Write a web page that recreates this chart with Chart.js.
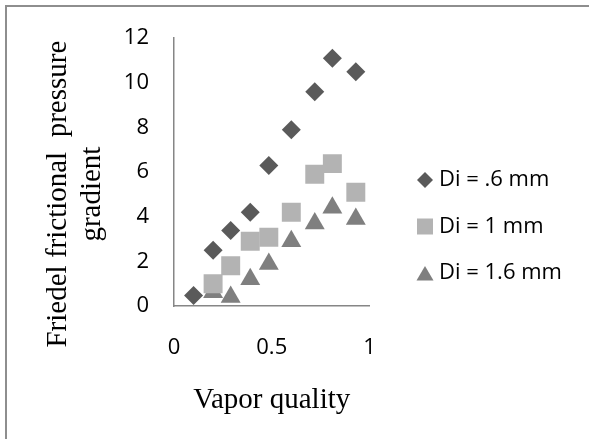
<!DOCTYPE html>
<html>
<head>
<meta charset="utf-8">
<script src="https://cdn.jsdelivr.net/npm/chart.js@4.4.1/dist/chart.umd.min.js"></script>
<style>
  html, body { margin: 0; padding: 0; background: #ffffff; }
  #wrap { position: relative; width: 589px; height: 439px; overflow: hidden; }
  #frame { position: absolute; left: 5px; top: 5px; width: 600px; height: 460px;
           border-left: 2px solid #8e8e8e; border-top: 2px solid #8e8e8e; box-sizing: border-box; }
  canvas { position: absolute; left: 0; top: 0; }
</style>
</head>
<body>
<div id="wrap">
  <div id="frame"></div>
  <canvas id="c" width="589" height="439"></canvas>
</div>
<script>
// ---- data ----
const seriesNames = ["Di = .6 mm", "Di = 1 mm", "Di = 1.6 mm"];
const xSmall = [0.1, 0.2, 0.29, 0.39, 0.485, 0.6, 0.72, 0.81, 0.93];
const ySmall = [0.47, 2.5, 3.38, 4.2, 6.3, 7.9, 9.6, 11.1, 10.5];
const xMid = [0.2, 0.29, 0.39, 0.485, 0.6, 0.72, 0.81, 0.93];
const yMid = [1.0, 1.8, 2.9, 3.08, 4.2, 5.9, 6.38, 5.1];
const xLarge = [0.2, 0.29, 0.39, 0.485, 0.6, 0.72, 0.81, 0.93];
const yLarge = [0.62, 0.4, 1.2, 1.88, 2.9, 3.7, 4.4, 3.9];
const xTickValues = [0, 0.5, 1];
const yTickValues = [0, 2, 4, 6, 8, 10, 12];
const xTitle = "Vapor quality";
const yTitleLines = ["Friedel frictional  pressure", "gradient"];

const colors = ["#5a5a5a", "#b3b3b3", "#7f7f7f"];
const shapes = ["rectRot", "rect", "triangle"];
const radii = [9.5, 13.4, 11.5];

function pts(xs, ys) { return xs.map((x, i) => ({ x: x, y: ys[i] })); }

function legendIcon(shape, color) {
  const c = document.createElement('canvas');
  c.width = 18; c.height = 18;
  const g = c.getContext('2d');
  g.fillStyle = color;
  g.beginPath();
  if (shape === 'rectRot') {
    g.moveTo(9, 1); g.lineTo(17, 9); g.lineTo(9, 17); g.lineTo(1, 9);
  } else if (shape === 'rect') {
    g.rect(1, 1, 16, 16);
  } else {
    g.moveTo(9, 2); g.lineTo(17.5, 16.5); g.lineTo(0.5, 16.5);
  }
  g.closePath();
  g.fill();
  return c;
}
const icons = shapes.map((s, i) => legendIcon(s, colors[i]));

const datasets = [pts(xSmall, ySmall), pts(xMid, yMid), pts(xLarge, yLarge)].map((d, i) => ({
  label: seriesNames[i],
  data: d,
  pointStyle: shapes[i],
  pointRadius: radii[i],
  pointHoverRadius: radii[i],
  backgroundColor: colors[i],
  borderColor: colors[i],
  borderWidth: 0,
  showLine: false
}));

const PLOT_RIGHT = 369.5;
const LEGEND_LEFT = 397.5;

const titlePlugin = {
  id: 'axisTitles',
  afterInit(chart) {
    const lg = chart.legend;
    if (lg) {
      const origFit = lg.fit.bind(lg);
      lg.fit = function () { origFit(); this.width = chart.width - PLOT_RIGHT; };
    }
  },
  afterLayout(chart) {
    const lg = chart.legend;
    if (lg) {
      const dx = LEGEND_LEFT - lg.left;
      lg.left += dx; lg.right += dx;
    }
  },
  afterDraw(chart) {
    const ctx = chart.ctx;
    const a = chart.chartArea;
    ctx.save();
    ctx.fillStyle = '#000000';
    ctx.font = '29px "Liberation Serif"';
    ctx.textAlign = 'center';
    ctx.textBaseline = 'middle';
    ctx.fillText(xTitle, (a.left + a.right) / 2, a.bottom + 94);
    const cy = (a.top + a.bottom) / 2 + 22;
    ctx.translate(0, cy);
    ctx.rotate(-Math.PI / 2);
    ctx.fillText(yTitleLines[0], 0, 58);
    ctx.fillText(yTitleLines[1], 0, 92);
    ctx.restore();
  }
};

new Chart(document.getElementById('c'), {
  type: 'scatter',
  data: { datasets: datasets },
  options: {
    responsive: false,
    animation: false,
    devicePixelRatio: 1,
    layout: { padding: { left: 0, top: 35, right: 0, bottom: 21 } },
    plugins: {
      tooltip: { enabled: false },
      legend: {
        position: 'right',
        align: 'center',
        labels: {
          usePointStyle: true,
          pointStyleWidth: 6,
          padding: 24.5,
          color: '#000000',
          font: { family: '"Open Sans"', size: 22 },
          generateLabels(chart) {
            const items = Chart.defaults.plugins.legend.labels.generateLabels(chart);
            items.forEach(it => { it.pointStyle = icons[it.datasetIndex]; });
            return items;
          }
        }
      }
    },
    scales: {
      x: {
        type: 'linear',
        min: xTickValues[0], max: xTickValues[xTickValues.length - 1],
        afterBuildTicks(s) { s.ticks = xTickValues.map(v => ({ value: v })); },
        ticks: { padding: 29, color: '#000000', font: { family: '"Open Sans"', size: 22 },
                 callback: v => String(v) },
        grid: { display: false, drawTicks: false },
        border: { display: true, color: '#868686', width: 1.5 },
        afterFit(s) { s.height = 112; }
      },
      y: {
        type: 'linear',
        min: yTickValues[0], max: yTickValues[yTickValues.length - 1],
        afterBuildTicks(s) { s.ticks = yTickValues.map(v => ({ value: v })); },
        ticks: { padding: 25, color: '#000000', font: { family: '"Open Sans"', size: 22 },
                 callback: v => String(v) },
        grid: { display: false, drawTicks: false },
        border: { display: true, color: '#868686', width: 1.5 },
        afterFit(s) { s.width = 174; }
      }
    }
  },
  plugins: [titlePlugin]
});
</script>
</body>
</html>
